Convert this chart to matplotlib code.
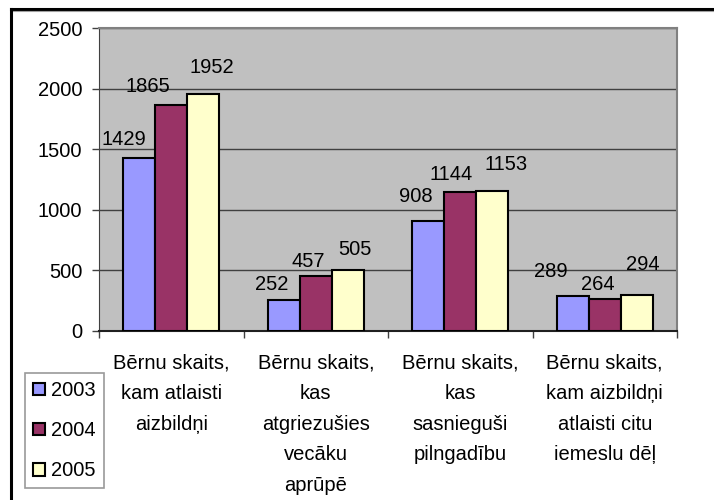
import numpy as np
import matplotlib.pyplot as plt
from matplotlib.patches import Rectangle
from matplotlib.lines import Line2D

plt.rcParams['font.family'] = ['Liberation Sans', 'DejaVu Sans']

# chart data
categories = [
    "Bērnu skaits,\nkam atlaisti\naizbildņi",
    "Bērnu skaits,\nkas\natgriezušies\nvecāku\naprūpē",
    "Bērnu skaits,\nkas\nsasnieguši\npilngadību",
    "Bērnu skaits,\nkam aizbildņi\natlaisti citu\niemeslu dēļ",
]
years = ["2003", "2004", "2005"]
vals_2003 = [1429, 252, 908, 289]
vals_2004 = [1865, 457, 1144, 264]
vals_2005 = [1952, 505, 1153, 294]
yticks = [0, 500, 1000, 1500, 2000, 2500]

series = [vals_2003, vals_2004, vals_2005]
colors = ["#9999FF", "#993366", "#FFFFCC"]

# label nudges in px (Excel placed them a bit off-centre), [series][category]
label_dx = [[-15, -12, -12, -22], [-23, -8, -9, -7], [8, 7, 14, 6]]
label_dy = [[13, 10, 19, 19], [13, 9, 12, 9], [21, 15, 21, 25]]

fs = 14.5

fig = plt.figure(figsize=(7.14, 5.0), dpi=100)
ax = fig.add_axes([99 / 714, 1 - 331 / 500, (677 - 99) / 714, (331 - 28) / 500])
ax.set_facecolor("#C0C0C0")

x = np.arange(len(categories))
w = 1 / 4.5
for i, vals in enumerate(series):
    pos = x + (i - 1) * w
    bars = ax.bar(pos, vals, width=w, color=colors[i], edgecolor="black",
                  linewidth=1.5, label=years[i], zorder=3)
    for j, (b, v) in enumerate(zip(bars, vals)):
        ax.annotate(str(v), (b.get_x() + b.get_width() / 2, v),
                    xytext=(label_dx[i][j] * 0.72, label_dy[i][j] * 0.72),
                    textcoords="offset points", ha="center", va="baseline",
                    fontsize=fs, zorder=4)

ax.set_xlim(-0.5, len(categories) - 0.5)
ax.set_ylim(0, 2500)
ax.set_yticks(yticks)
ax.set_yticklabels([str(t) for t in yticks], fontsize=fs)
ax.yaxis.grid(True, color="#404040", linewidth=1, zorder=0)
ax.set_axisbelow(True)

# category boundary ticks, labels centred between
ax.set_xticks(np.arange(-0.5, len(categories)))
ax.set_xticklabels([])
ax.set_xticks(x, minor=True)
ax.set_xticklabels(categories, minor=True, fontsize=fs, linespacing=1.78, va="top")
ax.tick_params(axis="x", which="minor", length=0, pad=16)
ax.tick_params(axis="x", which="major", length=5, width=1, color="#404040", direction="out")
ax.tick_params(axis="y", length=5, width=1, color="#404040", direction="out", pad=7)

for s in ["top", "right"]:
    ax.spines[s].set_color("#808080")
    ax.spines[s].set_linewidth(1.5)
ax.spines["left"].set_color("#404040")
ax.spines["bottom"].set_color("#202020")
ax.spines["bottom"].set_linewidth(1.5)

handles = [Rectangle((0, 0), 1, 1, facecolor=c, edgecolor="black", linewidth=1.5) for c in colors]
leg = fig.legend(handles, years, loc="upper left",
                 bbox_to_anchor=(25 / 714, 1 - 373 / 500), fontsize=fs,
                 frameon=True, fancybox=False, handlelength=0.6, handleheight=0.6,
                 handletextpad=0.3, labelspacing=1.05, borderpad=0.4,
                 borderaxespad=0)
leg.get_frame().set_edgecolor("#808080")
leg.get_frame().set_linewidth(1.2)

# outer chart border (cut off at right and bottom as in the source)
fig.add_artist(Line2D([11 / 714, 1.0], [1 - 9 / 500] * 2, color="black", linewidth=2.2))
fig.add_artist(Line2D([11 / 714, 1.0], [1 - 11 / 500] * 2, color="#A0A0A0", linewidth=0.8))
fig.add_artist(Line2D([11 / 714] * 2, [0, 1 - 9 / 500], color="black", linewidth=2.2))

fig.savefig("out.png", dpi=100)
